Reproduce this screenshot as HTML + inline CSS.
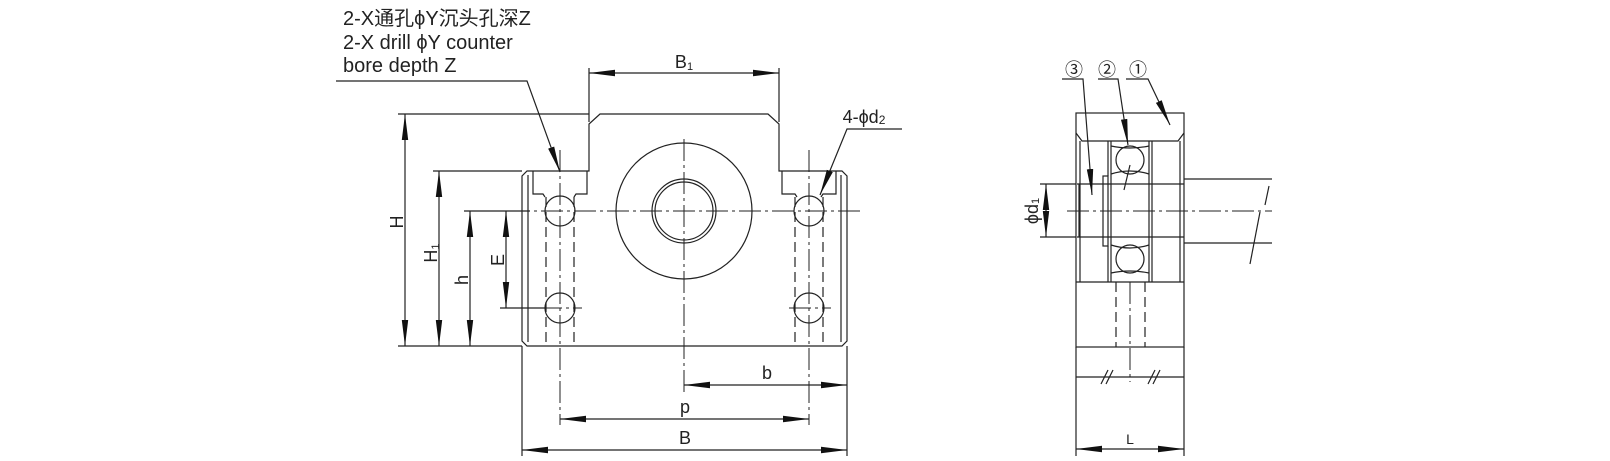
<!DOCTYPE html>
<html><head><meta charset="utf-8"><style>
html,body{margin:0;padding:0;background:#fff;}
svg{display:block;}
text{font-family:"Liberation Sans","Noto Sans CJK SC",sans-serif;fill:#222;}
</style></head><body>
<svg width="1610" height="461" viewBox="0 0 1610 461" xmlns="http://www.w3.org/2000/svg">
<defs>
<marker id="a" markerUnits="userSpaceOnUse" markerWidth="26" markerHeight="8" refX="26" refY="4" orient="auto-start-reverse"><path d="M0,0.8 L26,4 L0,7.2 Z" fill="#111"/></marker>
</defs>
<g stroke="#222" stroke-width="1.2" fill="none">
<!-- body outline -->
<path d="M527,171 L589,171 L589,124 L600,114 L768,114 L779,124 L779,171 L842,171 L847,176 L847,341 L842,346 L527,346 L522,341 L522,176 Z"/>
<line x1="528" y1="175" x2="528" y2="342"/>
<line x1="841" y1="175" x2="841" y2="342"/>
<!-- pockets -->
<polyline points="533,171 533,194 543,194 545,197"/>
<polyline points="587,171 587,194 576,194 574,197"/>
<polyline points="782,171 782,194 795,194 797,197"/>
<polyline points="836,171 836,194 823,194 821,197"/>
<!-- holes -->
<circle cx="560" cy="211" r="15"/><circle cx="560" cy="308" r="15"/>
<circle cx="809" cy="211" r="15"/><circle cx="809" cy="308" r="15"/>
<g stroke-dasharray="10,5">
<line x1="546" y1="197" x2="546" y2="346"/><line x1="574" y1="197" x2="574" y2="346"/>
<line x1="795" y1="197" x2="795" y2="346"/><line x1="823" y1="197" x2="823" y2="346"/>
</g>
<!-- big circle -->
<circle cx="684" cy="211" r="68"/><circle cx="684" cy="211" r="32"/><circle cx="684" cy="211" r="29"/>
<!-- centerlines -->
<g stroke-dasharray="22,4,3,4" stroke-width="1">
<line x1="508" y1="211" x2="860" y2="211"/>
<line x1="540" y1="308" x2="582" y2="308"/>
<line x1="789" y1="308" x2="831" y2="308"/>
<line x1="684" y1="139" x2="684" y2="392"/>
<line x1="560" y1="150" x2="560" y2="425"/>
<line x1="809" y1="150" x2="809" y2="425"/>
</g>
<!-- extension lines -->
<line x1="398" y1="114" x2="589" y2="114"/>
<line x1="398" y1="346" x2="522" y2="346"/>
<line x1="433" y1="171" x2="522" y2="171"/>
<line x1="464" y1="211" x2="530" y2="211"/>
<line x1="500" y1="308" x2="545" y2="308"/>
<line x1="522" y1="346" x2="522" y2="456"/>
<line x1="847" y1="346" x2="847" y2="456"/>
<line x1="589" y1="68" x2="589" y2="122"/>
<line x1="779" y1="68" x2="779" y2="122"/>
<!-- dims -->
<line x1="405" y1="114" x2="405" y2="346" marker-start="url(#a)" marker-end="url(#a)"/>
<line x1="439" y1="171" x2="439" y2="346" marker-start="url(#a)" marker-end="url(#a)"/>
<line x1="470" y1="211" x2="470" y2="346" marker-start="url(#a)" marker-end="url(#a)"/>
<line x1="506" y1="211" x2="506" y2="308" marker-start="url(#a)" marker-end="url(#a)"/>
<line x1="589" y1="73" x2="779" y2="73" marker-start="url(#a)" marker-end="url(#a)"/>
<line x1="684" y1="385" x2="847" y2="385" marker-start="url(#a)" marker-end="url(#a)"/>
<line x1="560" y1="419" x2="809" y2="419" marker-start="url(#a)" marker-end="url(#a)"/>
<line x1="522" y1="450" x2="847" y2="450" marker-start="url(#a)" marker-end="url(#a)"/>
<!-- leaders -->
<polyline points="336,81 527,81 560,172" marker-end="url(#a)"/>
<polyline points="902,129 847,129 820,195" marker-end="url(#a)"/>

<!-- RIGHT VIEW -->
<rect x="1076" y="113" width="108" height="234"/>
<path d="M1076,133 L1082,141 L1178,141 L1184,133"/>
<line x1="1080" y1="141" x2="1080" y2="282"/>
<line x1="1180" y1="141" x2="1180" y2="282"/>
<line x1="1076" y1="282" x2="1184" y2="282"/>
<line x1="1108" y1="141" x2="1108" y2="176"/><line x1="1108" y1="246" x2="1108" y2="282"/>
<line x1="1111" y1="141" x2="1111" y2="282"/>
<line x1="1149" y1="141" x2="1149" y2="282"/>
<line x1="1152" y1="141" x2="1152" y2="282"/>
<circle cx="1130" cy="160" r="14"/><circle cx="1130" cy="259" r="14"/>
<path d="M1111,174 Q1130,168 1149,174 M1111,146 Q1130,150 1149,146 M1111,245 Q1130,251 1149,245 M1111,273 Q1130,269 1149,273"/>
<line x1="1130" y1="165" x2="1124" y2="190"/>
<rect x="1103" y="176" width="5" height="70"/>
<line x1="1077" y1="184" x2="1184" y2="184"/>
<line x1="1077" y1="237" x2="1184" y2="237"/>
<line x1="1079" y1="184" x2="1079" y2="237"/>
<line x1="1184" y1="179" x2="1272" y2="179"/>
<line x1="1184" y1="243" x2="1272" y2="243"/>
<line x1="1260" y1="212" x2="1250" y2="264"/>
<line x1="1269" y1="186" x2="1265" y2="205"/>
<line x1="1040" y1="184" x2="1076" y2="184"/>
<line x1="1040" y1="237" x2="1076" y2="237"/>
<line x1="1046" y1="184" x2="1046" y2="237" marker-start="url(#a)" marker-end="url(#a)"/>
<g stroke-dasharray="22,4,3,4" stroke-width="1">
<line x1="1067" y1="211" x2="1272" y2="211"/>
<line x1="1130" y1="282" x2="1130" y2="382"/>
</g>
<g stroke-dasharray="10,5">
<line x1="1116" y1="282" x2="1116" y2="347"/>
<line x1="1145" y1="282" x2="1145" y2="347"/>
</g>
<line x1="1076" y1="347" x2="1076" y2="456"/>
<line x1="1184" y1="347" x2="1184" y2="456"/>
<line x1="1076" y1="377" x2="1184" y2="377"/>
<path d="M1101,384 L1108,370 M1106,384 L1113,370 M1148,384 L1155,370 M1153,384 L1160,370"/>
<line x1="1076" y1="449" x2="1184" y2="449" marker-start="url(#a)" marker-end="url(#a)"/>
<polyline points="1062,79 1083,79 1092,195" marker-end="url(#a)"/>
<polyline points="1098,79 1118,79 1128,145" marker-end="url(#a)"/>
<polyline points="1126,79 1148,79 1170,125" marker-end="url(#a)"/>
</g>
<g font-size="20">
<text x="343" y="25">2-X通孔ϕY沉头孔深Z</text>
<text x="343" y="49">2-X drill ϕY counter</text>
<text x="343" y="72">bore depth Z</text>
</g>
<g font-size="18" text-anchor="middle">
<text x="684" y="68">B<tspan font-size="11" dy="2">1</tspan></text>
<text x="864" y="123">4-ϕd<tspan font-size="12" dy="1">2</tspan></text>
<text x="767" y="379">b</text>
<text x="685" y="413">p</text>
<text x="685" y="444">B</text>
<text transform="translate(403,222) rotate(-90)">H</text>
<text transform="translate(437,253) rotate(-90)">H<tspan font-size="11" dy="2">1</tspan></text>
<text transform="translate(468,280) rotate(-90)">h</text>
<text transform="translate(504,260) rotate(-90)">E</text>
<text transform="translate(1038,211) rotate(-90)">ϕd<tspan font-size="11" dy="1">1</tspan></text>
<text x="1074" y="76">③</text>
<text x="1107" y="76">②</text>
<text x="1138" y="76">①</text>
<text x="1130" y="444" font-size="14">L</text>
</g>
</svg>
</body></html>
